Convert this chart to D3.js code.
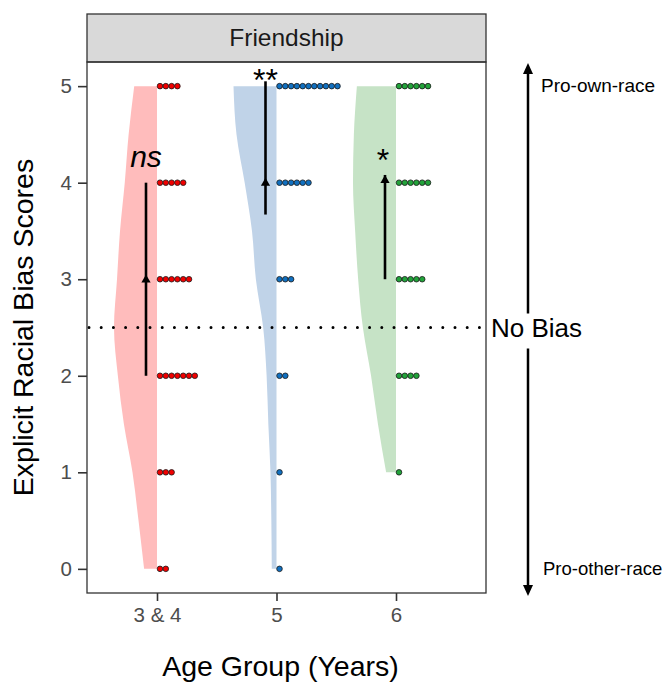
<!DOCTYPE html>
<html>
<head>
<meta charset="utf-8">
<script src="https://cdn.jsdelivr.net/npm/d3@7"></script>
<style>
  html, body { margin: 0; padding: 0; background: #fff; }
  svg { display: block; font-family: "Liberation Sans", Arial, sans-serif; }
</style>
</head>
<body>
<svg id="chart" width="669" height="683"></svg>
<script>
// data
const groups = ["3 & 4", "5", "6"];
const scores = [0, 1, 2, 3, 4, 5];
// number of children at each score (dot counts), per age group
const counts34 = [2, 3, 7, 6, 5, 4];
const counts5 = [1, 1, 2, 3, 6, 11];
const counts6 = [0, 1, 4, 5, 6, 6];
// relative density of the half violins (max = 1), sampled every 0.5
const densScores = [0, 0.5, 1, 1.5, 2, 2.5, 3, 3.5, 4, 4.5, 5];
const dens34 = [0.30, 0.43, 0.57, 0.77, 0.91, 1.0, 0.93, 0.86, 0.75, 0.66, 0.53];
const dens5 = [0.11, 0.12, 0.14, 0.19, 0.23, 0.31, 0.48, 0.57, 0.74, 0.93, 1.0];
const dens6 = [null, null, 0.23, 0.42, 0.58, 0.77, 0.88, 0.95, 1.0, 0.98, 0.91];
// arrows: start, arrow head, end (score units)
const arrowLo = [2.0, 3.67, 3.0];
const arrowHead = [3.05, 4.05, 4.08];
const arrowHi = [4.0, 5.05, 4.08];
const sigLabels = ["ns", "**", "*"];
const sigScore = [4.16, 4.95, 4.12];
const noBias = 2.5;

const violinFill = ["#ffbcbc", "#c0d3e8", "#c6e3c6"];
const dotFill = ["#f00000", "#1170c0", "#22a33a"];

const svg = d3.select("#chart");
const panel = {left: 87, right: 486, top: 62, bottom: 593};

const x = d3.scalePoint().domain(groups).range([panel.left + 70, panel.right - 90]);
const y = d3.scaleLinear().domain([-0.25, 5.25]).range([panel.bottom, panel.top]);
const w = d3.scaleLinear().domain([0, 1]).range([0, 43]);

const counts = [counts34, counts5, counts6];
const dens = [dens34, dens5, dens6];

// strip
svg.append("rect")
  .attr("x", panel.left).attr("y", 14)
  .attr("width", panel.right - panel.left).attr("height", panel.top - 14)
  .attr("fill", "#d9d9d9").attr("stroke", "#333").attr("stroke-width", 1.3);
svg.append("text")
  .attr("x", (panel.left + panel.right) / 2).attr("y", 46)
  .attr("text-anchor", "middle").attr("font-size", 24.5).attr("fill", "#1a1a1a")
  .text("Friendship");

const plot = svg.append("g");

// half violins
const area = d3.area()
  .curve(d3.curveMonotoneY)
  .defined(d => d.d != null)
  .y(d => y(d.v));

groups.forEach((g, i) => {
  const pts = densScores.map((v, j) => ({v, d: dens[i][j]}));
  plot.append("path")
    .datum(pts)
    .attr("fill", violinFill[i])
    .attr("d", area.x0(d => x(g) - w(d.d)).x1(() => x(g)));
});

// dotted no-bias line
plot.append("line")
  .attr("x1", panel.left + 2).attr("x2", panel.right)
  .attr("y1", y(noBias)).attr("y2", y(noBias))
  .attr("stroke", "#000").attr("stroke-width", 3)
  .attr("stroke-linecap", "round").attr("stroke-dasharray", "0,12.2");

// dots
groups.forEach((g, i) => {
  const pts = [];
  scores.forEach((s, j) => {
    d3.range(counts[i][j]).forEach(k => pts.push({s, k}));
  });
  plot.append("g").selectAll("circle")
    .data(pts)
    .join("circle")
    .attr("cx", d => x(g) + 3 + d.k * 5.8)
    .attr("cy", d => y(d.s))
    .attr("r", 2.8)
    .attr("fill", dotFill[i])
    .attr("stroke", "#1a1a1a").attr("stroke-width", 0.8);
});

// arrows and significance
const arrowTri = (cx, tipY, hw, len, dir) => {
  const p = d3.path();
  p.moveTo(cx, tipY);
  p.lineTo(cx - hw, tipY + dir * len);
  p.lineTo(cx + hw, tipY + dir * len);
  p.closePath();
  return p.toString();
};

groups.forEach((g, i) => {
  const ax = x(g) - 11;
  plot.append("line")
    .attr("x1", ax).attr("x2", ax)
    .attr("y1", y(arrowLo[i])).attr("y2", y(arrowHi[i]))
    .attr("stroke", "#000").attr("stroke-width", 2.6);
  plot.append("path")
    .attr("d", arrowTri(ax, y(arrowHead[i]), 4.6, 8, 1))
    .attr("fill", "#000");
  plot.append("text")
    .attr("x", ax - (sigLabels[i] === "*" ? 2 : 0)).attr("y", y(sigScore[i]))
    .attr("text-anchor", "middle")
    .attr("font-size", sigLabels[i] === "ns" ? 30 : 32)
    .attr("font-style", sigLabels[i] === "ns" ? "italic" : "normal")
    .attr("fill", "#000")
    .text(sigLabels[i]);
});

// panel border
svg.append("rect")
  .attr("x", panel.left).attr("y", panel.top)
  .attr("width", panel.right - panel.left).attr("height", panel.bottom - panel.top)
  .attr("fill", "none").attr("stroke", "#333").attr("stroke-width", 1.3);

// axes
const yAxis = svg.append("g")
  .attr("transform", `translate(${panel.left},0)`)
  .call(d3.axisLeft(y).tickValues(scores).tickSize(9).tickPadding(6).tickFormat(d3.format("d")));
const xAxis = svg.append("g")
  .attr("transform", `translate(0,${panel.bottom})`)
  .call(d3.axisBottom(x).tickSize(8).tickPadding(6));
[yAxis, xAxis].forEach(a => {
  a.select(".domain").remove();
  a.selectAll(".tick line").attr("stroke", "#333").attr("stroke-width", 1.6);
  a.selectAll(".tick text").attr("fill", "#4d4d4d").attr("font-size", 20.5)
    .attr("font-family", "Liberation Sans, Arial, sans-serif");
});

// axis titles
svg.append("text")
  .attr("x", (panel.left + panel.right) / 2 - 6).attr("y", 676)
  .attr("text-anchor", "middle").attr("font-size", 28.5).attr("fill", "#000")
  .text("Age Group (Years)");
svg.append("text")
  .attr("transform", `translate(33,${(panel.top + panel.bottom) / 2}) rotate(-90)`)
  .attr("text-anchor", "middle").attr("font-size", 28.5).attr("fill", "#000")
  .text("Explicit Racial Bias Scores");

// right-hand scale annotation
const rx = 528;
const ann = svg.append("g");
ann.append("line")
  .attr("x1", rx).attr("x2", rx).attr("y1", y(5.25) + 10).attr("y2", y(noBias) - 14)
  .attr("stroke", "#000").attr("stroke-width", 2.5);
ann.append("line")
  .attr("x1", rx).attr("x2", rx).attr("y1", y(noBias) + 21).attr("y2", y(-0.25) - 8)
  .attr("stroke", "#000").attr("stroke-width", 2.5);
ann.append("path").attr("d", arrowTri(rx, y(5.25) + 1, 5, 11, 1)).attr("fill", "#000");
ann.append("path").attr("d", arrowTri(rx, y(-0.25) + 3, 5, 11, -1)).attr("fill", "#000");
ann.append("text")
  .attr("x", rx + 13).attr("y", y(5) + 6)
  .attr("font-size", 19).attr("fill", "#000").text("Pro-own-race");
ann.append("text")
  .attr("x", rx + 15).attr("y", y(0) + 6)
  .attr("font-size", 18.5).attr("fill", "#000").text("Pro-other-race");
svg.append("text")
  .attr("x", 491).attr("y", y(noBias) + 9)
  .attr("font-size", 26).attr("fill", "#000").text("No Bias");
</script>
</body>
</html>
